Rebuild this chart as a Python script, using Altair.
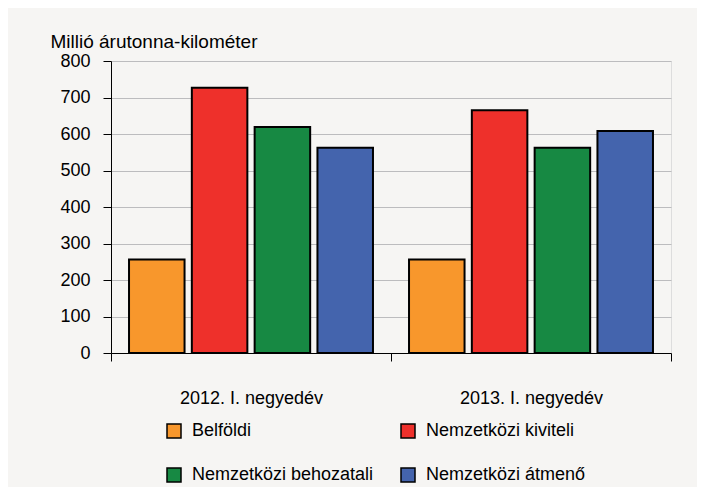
import altair as alt
import pandas as pd

periods = ["2012. I. negyedév", "2013. I. negyedév"]
categories = ["Belföldi", "Nemzetközi kiviteli", "Nemzetközi behozatali", "Nemzetközi átmenő"]
values_2012 = [256, 727, 619, 562]
values_2013 = [256, 665, 562, 608]
colors = ["#F8972C", "#EE302B", "#178943", "#4464AD"]
y_ticks = [0, 100, 200, 300, 400, 500, 600, 700, 800]
y_title = "Millió árutonna-kilométer"

rows = []
for p, vals in zip(periods, [values_2012, values_2013]):
    for c, v in zip(categories, vals):
        rows.append({"period": p, "category": c, "value": v})
df = pd.DataFrame(rows)

# legend grid fills column by column: order entries so rows read as in the reference
legend_order = [categories[0], categories[2], categories[1], categories[3]]
legend_colors = [colors[0], colors[2], colors[1], colors[3]]

BG = "#F6F5F3"
FONT = "Liberation Sans"

chart = alt.Chart(df).mark_bar(stroke="black", strokeWidth=2).encode(
    x=alt.X(
        "period:N",
        sort=periods,
        scale=alt.Scale(paddingInner=0, paddingOuter=0),
        axis=alt.Axis(
            title=None,
            labelAngle=0,
            tickBand="extent",
            grid=False,
            ticks=True,
            tickSize=8,
            tickColor="black",
            domainColor="black",
            labelColor="black",
            labelFontSize=18,
            labelFont=FONT,
            labelBaseline="alphabetic",
            labelPadding=42,
        ),
    ),
    xOffset=alt.XOffset(
        "category:N",
        sort=categories,
        scale=alt.Scale(paddingInner=0.116, paddingOuter=0.287),
    ),
    y=alt.Y(
        "value:Q",
        scale=alt.Scale(domain=[0, 800], nice=False),
        axis=alt.Axis(
            values=y_ticks,
            title=y_title,
            titleAngle=0,
            titleAlign="left",
            titleBaseline="alphabetic",
            titleX=-61,
            titleY=-14,
            titleFontSize=19,
            titleFontWeight="normal",
            titleFont=FONT,
            titleColor="black",
            grid=True,
            gridColor="#BCBCBE",
            gridWidth=1.2,
            tickSize=8,
            tickColor="black",
            domainColor="black",
            labelColor="black",
            labelFontSize=18,
            labelFont=FONT,
            labelPadding=13,
        ),
    ),
    color=alt.Color(
        "category:N",
        scale=alt.Scale(domain=legend_order, range=legend_colors),
        legend=alt.Legend(
            title=None,
            orient="none",
            legendX=54,
            legendY=361,
            columns=2,
            columnPadding=24,
            rowPadding=24,
            padding=0,
            symbolType="square",
            symbolSize=196,
            symbolStrokeColor="black",
            symbolStrokeWidth=1.5,
            labelFontSize=18,
            labelFont=FONT,
            labelColor="black",
            labelOffset=9,
            labelLimit=400,
        ),
    ),
).properties(
    width=560,
    height=292,
    padding={"left": 103, "top": 53, "right": 26, "bottom": 134},
    autosize=alt.AutoSizeParams(type="none"),
    background=BG,
).configure_view(
    stroke="#555555",
    strokeWidth=1,
    fill=BG,
).configure(font=FONT)

chart.save("out.html", embed_options={"renderer": "svg", "actions": False})
